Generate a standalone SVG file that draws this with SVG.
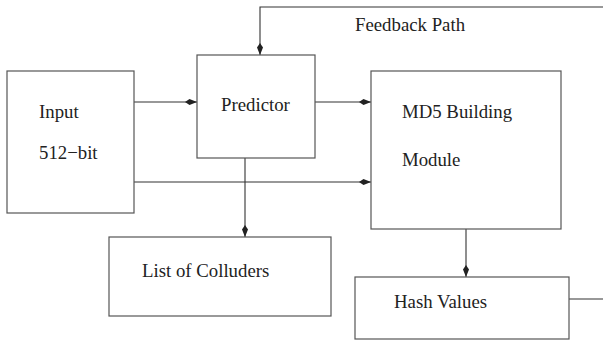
<svg xmlns="http://www.w3.org/2000/svg" width="603" height="340" viewBox="0 0 603 340">
<style>
  .box { fill: #ffffff; stroke: #555555; stroke-width: 1.2; }
  .lbl { font-family: "Liberation Serif", "Times New Roman", serif; font-size: 18.8px; fill: #222222; }
  .conn { fill: none; stroke: #333333; stroke-width: 1.1; }
</style>
<defs>
  <marker id="dia" markerUnits="userSpaceOnUse" markerWidth="14" markerHeight="8" refX="12" refY="3.5" orient="auto">
    <path d="M0,3.5 L4.5,0.5 L12,3.5 L4.5,6.5 Z" fill="#222222"/>
  </marker>
</defs>
<rect width="603" height="340" fill="#ffffff"/>
<g id="connectors">
  <path class="conn" d="M603,7 H260 V55" marker-end="url(#dia)"/>
  <path class="conn" d="M134,102 H197" marker-end="url(#dia)"/>
  <path class="conn" d="M315,102 H371" marker-end="url(#dia)"/>
  <path class="conn" d="M134,182 H371" marker-end="url(#dia)"/>
  <path class="conn" d="M245,158 V237" marker-end="url(#dia)"/>
  <path class="conn" d="M466,229 V277" marker-end="url(#dia)"/>
  <path class="conn" d="M569,299 H603"/>
</g>
<g id="feedback-label">
  <text class="lbl" x="355" y="31">Feedback Path</text>
</g>
<g id="input">
  <rect class="box" x="7" y="71" width="127" height="142"/>
  <text class="lbl" x="39" y="118">Input</text>
  <text class="lbl" x="39" y="159">512−bit</text>
</g>
<g id="predictor">
  <rect class="box" x="197" y="55" width="118" height="103"/>
  <text class="lbl" x="221" y="111">Predictor</text>
</g>
<g id="md5">
  <rect class="box" x="371" y="71" width="190" height="158"/>
  <text class="lbl" x="402" y="118">MD5 Building</text>
  <text class="lbl" x="402" y="166">Module</text>
</g>
<g id="colluders">
  <rect class="box" x="109" y="237" width="222" height="79"/>
  <text class="lbl" x="142" y="277">List of Colluders</text>
</g>
<g id="hash">
  <rect class="box" x="355" y="277" width="214" height="62"/>
  <text class="lbl" x="394" y="308">Hash Values</text>
</g>
</svg>
